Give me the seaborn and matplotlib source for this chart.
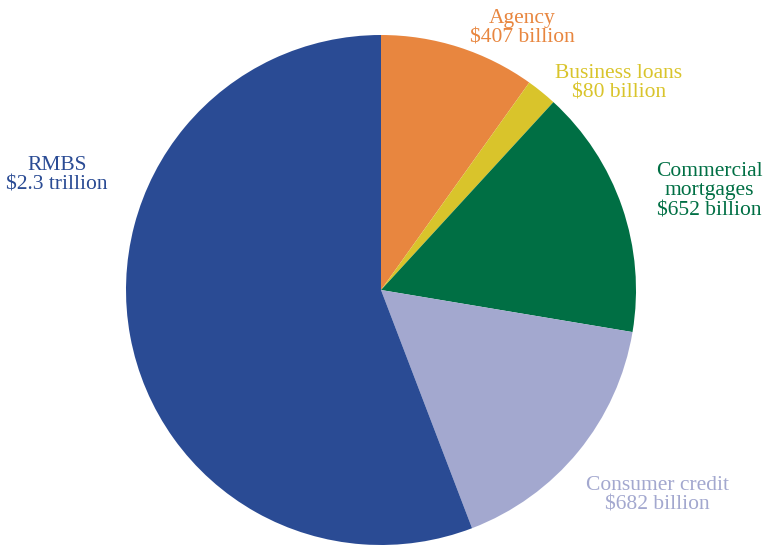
import matplotlib
matplotlib.use("Agg")
import matplotlib.pyplot as plt
import seaborn as sns

# Holdings by asset class (billions of dollars)
categories = ["Agency", "Business loans", "Commercial\nmortgages", "Consumer credit", "RMBS"]
values = [407, 80, 652, 682, 2300]
amount_labels = ["$407 billion", "$80 billion", "$652 billion", "$682 billion", "$2.3 trillion"]
colors = ["#E8863F", "#D9C42B", "#006F44", "#A3A8CF", "#2A4B94"]

sns.set_theme(style="white")
plt.rcParams["font.family"] = ["Liberation Serif", "DejaVu Serif"]

fig = plt.figure(figsize=(7.66, 5.45), dpi=100)
ax = fig.add_axes([0, 0, 1, 1])

# pie in pixel-like coordinates (y measured from bottom)
ax.pie(values, colors=colors, startangle=90, counterclock=False,
       center=(381, 255), radius=255, wedgeprops={"linewidth": 0})

label_pos = [(522, 517), (619, 462), (709, 354), (657, 50), (57, 370)]
for cat, amt, col, (x, y) in zip(categories, amount_labels, colors, label_pos):
    ax.text(x, y, f"{cat}\n{amt}", color=col, fontsize=15.5, ha="center", va="center",
            linespacing=1.05)

ax.set_xlim(0, 766)
ax.set_ylim(0, 545)
ax.set_aspect("equal")
ax.axis("off")

plt.savefig("out.png", dpi=100)
plt.close()
